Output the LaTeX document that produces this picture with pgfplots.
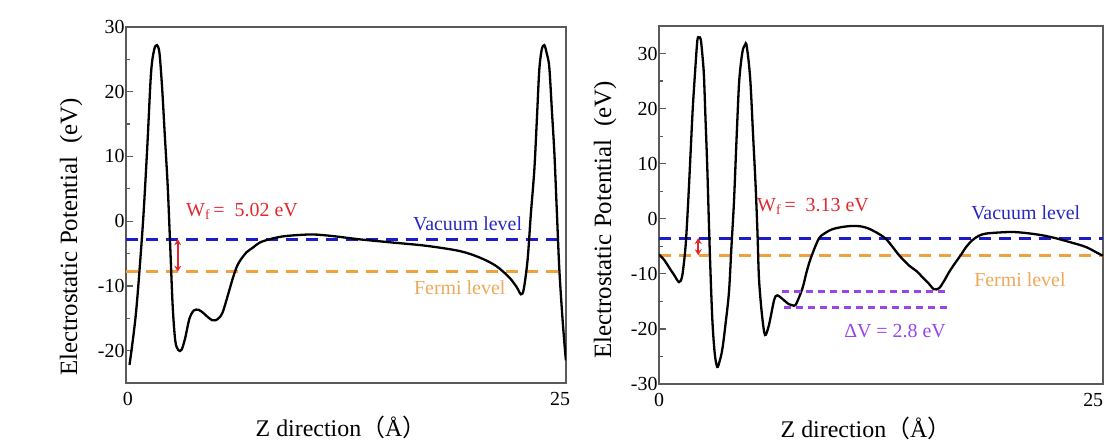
\documentclass[border=0pt]{standalone}
\usepackage{fontspec}
\setmainfont{Liberation Serif}
\newfontfamily\cjk{Noto Sans CJK SC}
\usepackage{pgfplots}
\pgfplotsset{compat=1.18}
\usetikzlibrary{arrows.meta}
\definecolor{vac}{RGB}{28,28,200}
\definecolor{vactext}{RGB}{40,40,190}
\definecolor{fer}{RGB}{240,160,60}
\definecolor{fertext}{RGB}{238,168,90}
\definecolor{wred}{RGB}{225,40,45}
\definecolor{dvpurple}{RGB}{150,70,235}
\definecolor{axgray}{RGB}{90,90,90}

\pgfplotstableread{
x y
0.2 -22.2
0.57 -14.1
0.95 -0.8
1.2 11
1.42 22.8
1.6 26.5
1.76 27.2
1.9 26
2.05 20.7
2.2 13.5
2.37 5.4
2.5 -3
2.65 -13.0
2.8 -18.5
2.97 -19.9
3.15 -19.9
3.35 -18.2
3.6 -15.1
3.85 -13.8
4.13 -13.7
4.4 -14.2
4.64 -14.8
4.9 -15.3
5.1 -15.3
5.3 -14.9
5.49 -14.1
5.75 -11.8
6.06 -8.9
6.3 -7.0
6.53 -5.9
6.85 -4.8
7.2 -4.1
7.6 -3.3
8.14 -2.8
8.8 -2.4
9.47 -2.2
10.6 -2.05
11.74 -2.3
13.26 -2.8
15.15 -3.3
17.05 -3.8
18.94 -4.6
20.08 -5.6
21.02 -6.9
21.78 -8.7
22.2 -10.2
22.44 -11.3
22.6 -10.5
22.82 -5.9
23.0 1
23.2 7.9
23.35 16
23.48 23.3
23.62 26.5
23.77 27.2
23.9 26
24.05 23.8
24.2 17
24.34 10.5
24.48 1.5
24.62 -7.4
24.8 -15
24.96 -20.5
25 -21.5
}\leftdata

\pgfplotstableread{
x y
0 -6.5
0.3 -7.5
0.56 -8.8
0.85 -10.2
1.13 -11.5
1.31 -10.3
1.5 -4.8
1.65 3.5
1.78 12.1
1.9 20
2.03 26.6
2.16 32.4
2.25 32.9
2.35 32.6
2.45 29.5
2.53 26.0
2.62 18
2.72 9.1
2.85 -5
3.0 -18.1
3.14 -24.5
3.28 -26.9
3.42 -25.8
3.57 -23.6
3.75 -19
3.94 -13.3
4.08 -5
4.22 3.0
4.36 14
4.5 24.2
4.62 28.5
4.73 30.8
4.85 31.6
4.92 31.7
5.05 28.5
5.16 24.2
5.3 15
5.44 6.0
5.55 -3
5.63 -10.9
5.8 -17.5
5.97 -21.1
6.19 -19.3
6.48 -14.8
6.66 -13.9
7.04 -14.8
7.3 -15.5
7.51 -15.7
7.7 -15.6
8.07 -12.7
8.3 -9.8
8.54 -7.2
9.0 -3.6
9.4 -2.5
9.76 -1.9
10.3 -1.5
10.89 -1.3
11.4 -1.4
11.82 -1.8
12.3 -2.6
12.76 -3.6
13.15 -5.1
13.51 -6.6
14.08 -8.5
14.5 -9.5
14.83 -10.6
15.2 -11.8
15.48 -12.8
15.77 -12.6
16.05 -11.3
16.33 -9.7
16.66 -8.1
16.99 -6.6
17.3 -5.1
17.64 -3.9
18.0 -3.1
18.39 -2.7
19.1 -2.5
19.9 -2.4
20.7 -2.6
21.58 -3.0
22.3 -3.5
23.09 -4.2
24.02 -5.1
24.74 -6.3
25 -6.7
}\rightdata

\pgfplotsset{
  myaxis/.style={
    scale only axis,
    xmin=0, xmax=25,
    tick align=inside,
    ytick pos=left,
    xtick pos=bottom,
    major tick length=7bp,
    minor tick length=4bp,
    minor y tick num=1,
    axis line style={draw=axgray, line width=1.3bp},
    every tick/.style={draw=axgray, line width=1.2bp},
    xtick style={draw=none},
    ticklabel style={font=\fontsize{20}{24}\selectfont},
    yticklabel style={xshift=2bp},
    xticklabel style={yshift=-6bp},
    xticklabels={0,25},
    /pgf/number format/assume math mode=true,
  },
  curve/.style={black, line width=2.3bp, smooth, no marks},
  vacline/.style={vac, line width=3bp, dash pattern=on 12bp off 8bp, no marks},
  ferline/.style={fer, line width=3bp, dash pattern=on 12bp off 8bp, no marks},
  dvline/.style={dvpurple, line width=2.2bp, dash pattern=on 7bp off 5bp, no marks},
  wfarrow/.style={wred, line width=1.8bp, no marks, {Stealth[length=6bp,width=7bp]}-{Stealth[length=6bp,width=7bp]}},
}
\tikzset{annot/.style={font=\fontsize{20}{24}\selectfont, anchor=base west, inner sep=0pt}}

\begin{document}
\begin{tikzpicture}
\useasboundingbox (0,0) rectangle (1105bp,441bp);
% ---------------- left panel ----------------
\begin{axis}[myaxis,
  at={(126bp,58bp)}, anchor=south west,
  width=440bp, height=356bp,
  ymin=-25, ymax=30,
  ytick={-20,-10,0,10,20,30},
  xtick={0.1,24.66},
]
\addplot[vacline] coordinates {(0,-2.78) (25,-2.78)};
\addplot[ferline] coordinates {(0,-7.8) (25,-7.8)};
\addplot[curve] table[x=x,y=y] {\leftdata};
\addplot[wfarrow] coordinates {(2.94,-2.78) (2.94,-7.8)};
\node[annot, text=wred] at (axis cs:3.41,0.77) {W\textsubscript{f}\,=\ \ 5.02 eV};
\node[annot, text=vactext] at (axis cs:16.3,-1.38) {Vacuum level};
\node[annot, text=fertext] at (axis cs:16.36,-11.4) {Fermi level};
\end{axis}
% ---------------- right panel ----------------
\begin{axis}[myaxis,
  at={(659bp,57bp)}, anchor=south west,
  width=444bp, height=358bp,
  ymin=-30, ymax=35,
  ytick={-30,-20,-10,0,10,20,30},
  xtick={0,24.45},
]
\addplot[vacline] coordinates {(0,-3.5) (25,-3.5)};
\addplot[ferline] coordinates {(0,-6.63) (25,-6.63)};
\addplot[curve] table[x=x,y=y] {\rightdata};
\addplot[dvline] coordinates {(6.94,-13.2) (16.14,-13.2)};
\addplot[dvline] coordinates {(7.04,-16.1) (16.2,-16.1)};
\addplot[wfarrow] coordinates {(2.21,-3.5) (2.21,-6.63)};
\node[annot, text=wred] at (axis cs:5.52,1.38) {W\textsubscript{f}\,=\ \ 3.13 eV};
\node[annot, text=vactext] at (axis cs:17.57,-0.13) {Vacuum level};
\node[annot, text=fertext] at (axis cs:17.74,-12.3) {Fermi level};
\node[annot, text=dvpurple] at (axis cs:10.42,-21.5) {ΔV = 2.8 eV};
\end{axis}
% ---------------- axis labels ----------------
\node[rotate=90, anchor=base, font=\fontsize{25}{30}\selectfont, inner sep=0pt] at (77bp,204bp) {Electrostatic Potential\ \ (eV)};
\node[rotate=90, anchor=base, font=\fontsize{25}{30}\selectfont, inner sep=0pt] at (611bp,221bp) {Electrostatic Potential\ \ (eV)};
\node[anchor=base, font=\fontsize{24}{28}\selectfont, inner sep=0pt] at (341bp,5bp) {Z direction{\cjk （}Å{\cjk ）}};
\node[anchor=base, font=\fontsize{24}{28}\selectfont, inner sep=0pt] at (866bp,4bp) {Z direction{\cjk （}Å{\cjk ）}};
\end{tikzpicture}
\end{document}
